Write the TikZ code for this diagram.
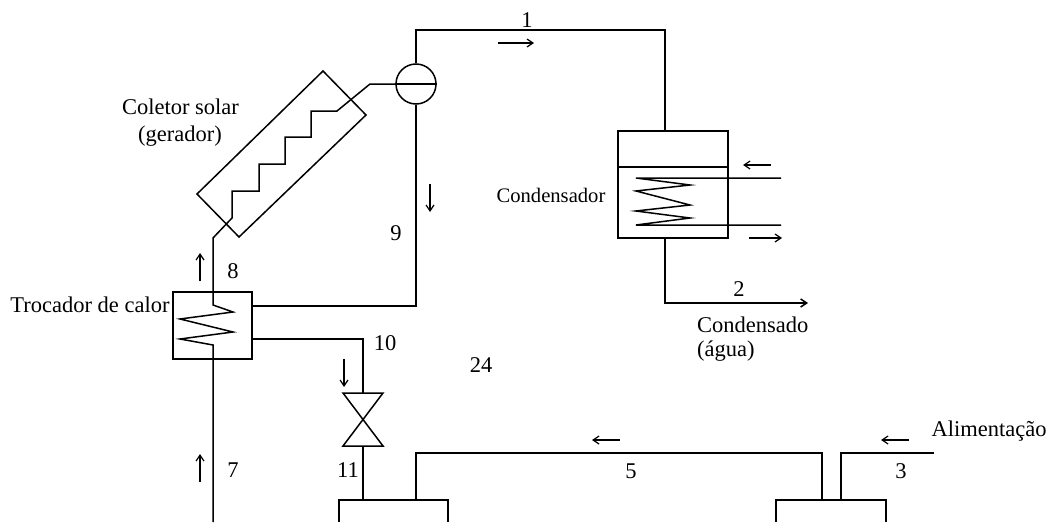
\documentclass[tikz,border=0pt]{standalone}
\usepackage{fontspec}
\setmainfont{Liberation Serif}
\usetikzlibrary{arrows.meta}
\tikzset{
  pipe/.style={draw=black,line width=1.5pt,line join=miter},
  flow/.style={draw=black,line width=1.2pt,-{Straight Barb[length=6pt,width=8pt]}},
  lbl/.style={font=\fontsize{22.5}{26}\selectfont,inner sep=0pt,text=black},
  smalllbl/.style={font=\fontsize{20.6}{25}\selectfont,inner sep=0pt,text=black},
  unitbox/.style={pipe,rectangle,inner sep=0pt},
}
\begin{document}
\begin{tikzpicture}[x=1pt,y=-1pt]
\useasboundingbox (0,0) rectangle (1054,522);
% equipment
\node[pipe,circle,minimum size=40pt,inner sep=0pt] (sep) at (416,84) {};
\node[unitbox,minimum width=79pt,minimum height=67pt] (hx) at (212.5,325.5) {};
\node[unitbox,minimum width=110pt,minimum height=107pt] (cond) at (673,184.5) {};
\coordinate (colA) at (323,71);
\coordinate (colB) at (366,115);
\coordinate (colC) at (239,237);
\coordinate (colD) at (197,194);
\draw[pipe] (colA) -- (colB) -- (colC) -- (colD) -- cycle;
% separator bar
\draw[pipe] (sep.west) -- (sep.east);
% collector coil
\coordinate (c8) at (213,292);
\draw[pipe] (hx.north -| c8) -- (213,238) -- (232,218) -- (232,191) -- (259,191) -- (259,164) -- (285,164) -- (285,137) -- (311,137) -- (311,111) -- (337,111) -- (370,84) -- (sep.west);
% line 1
\draw[pipe] (sep.north) |- (665,30) -- (665,131);
% line 9
\coordinate (hxE1) at (252,306);
\draw[pipe] (sep.south) -- (416,306) -- (hxE1);
% heat exchanger coil
\draw[pipe] (213,292) -- (213,305) -- (233,312) -- (180,319) -- (233,332) -- (180,339) -- (213,345) -- (213,522);
% line 10 and valve
\coordinate (hxE2) at (252,339);
\coordinate (vTL) at (343,393);
\coordinate (vTR) at (383,393);
\coordinate (vBL) at (343,446);
\coordinate (vBR) at (383,446);
\coordinate (vT) at (363,393);
\coordinate (vB) at (363,446);
\draw[pipe] (hxE2) -| (vT);
\draw[pipe] (vTL) -- (vTR) -- (vBL) -- (vBR) -- cycle;
% tanks
\coordinate (tLa) at (339,522);
\coordinate (tLb) at (448,522);
\coordinate (tRa) at (776,522);
\coordinate (tRb) at (886,522);
\draw[pipe] (tLa) |- (448,500) -- (tLb);
\draw[pipe] (tRa) |- (886,500) -- (tRb);
\draw[pipe] (vB) -- (363,500);
\draw[pipe] (416,500) |- (822,453) -- (822,500);
\coordinate (feed) at (934,453);
\draw[pipe] (841,500) |- (feed);
% condenser
\draw[pipe,line width=1.2pt] (cond.west |- 0,167) -- (cond.east |- 0,167);
\coordinate (cIn) at (781,178);
\coordinate (cOut) at (781,225);
\draw[pipe] (cIn) -- (636,178) -- (690,185) -- (636,191) -- (690,205) -- (636,211) -- (690,218) -- (636,225) -- (cOut);
\coordinate (out2) at (808,303);
\draw[pipe] (665,238) |- (665,303) -- (800,303);
\draw[-{Straight Barb[length=6pt,width=8pt]},line width=1.5pt] (790,303) -- (out2);
% flow arrows
\coordinate (a1s) at (498,43); \coordinate (a1e) at (534,43);
\coordinate (a9s) at (430,184); \coordinate (a9e) at (430,212);
\coordinate (a8s) at (200,281); \coordinate (a8e) at (200,253);
\coordinate (a7s) at (200,482); \coordinate (a7e) at (200,454);
\coordinate (a10s) at (344,359); \coordinate (a10e) at (344,387);
\coordinate (aCs) at (771,165); \coordinate (aCe) at (743,165);
\coordinate (aDs) at (749,238); \coordinate (aDe) at (782,238);
\coordinate (a5s) at (620,440); \coordinate (a5e) at (592,440);
\coordinate (a3s) at (909,440); \coordinate (a3e) at (881,440);
\foreach \p in {a1,a9,a8,a7,a10,aC,aD,a5,a3}{\draw[flow] (\p s) -- (\p e);}
% labels
\node[lbl] (n1) at (527,20) {1};
\node[lbl] (n2) at (739,289) {2};
\node[lbl] (n3) at (901,471) {3};
\node[lbl] (n5) at (631,471) {5};
\node[lbl] (n7) at (233,470) {7};
\node[lbl] (n8) at (233,271) {8};
\node[lbl] (n9) at (396,233) {9};
\node[lbl] (n10) at (385,343) {10};
\node[lbl] (n11) at (348,470) {11};
\node[lbl] (n24) at (481,365) {24};
\node[lbl] (tCol) at (180.5,107) {Coletor solar};
\node[lbl] (tGer) at (180,136) {(gerador)};
\node[smalllbl] (tCond) at (551,195) {Condensador};
\node[lbl] (tTro) at (90,305) {Trocador de calor};
\node[lbl,anchor=west] (tCdo) at (697,325) {Condensado};
\node[lbl,anchor=west] (tAgua) at (697,351) {(água)};
\node[lbl] (tAli) at (989,431) {Alimentação};
\end{tikzpicture}
\end{document}
